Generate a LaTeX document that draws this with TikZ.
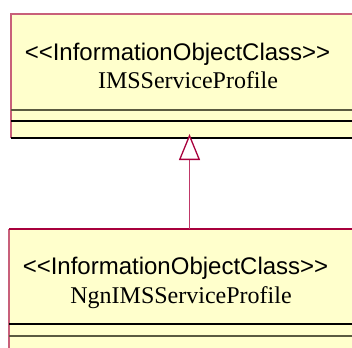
\documentclass[tikz,border=0pt]{standalone}
\usepackage{fontspec}
\setmainfont{Liberation Serif}
\newfontfamily\stfont{Liberation Sans}
\usetikzlibrary{arrows.meta}
\definecolor{classfill}{HTML}{FFFFCC}
\definecolor{pinkedge}{HTML}{C8607A}
\definecolor{crimson}{HTML}{A8003C}
\definecolor{divgray}{HTML}{5A5A40}
\definecolor{linkcol}{HTML}{C03868}
\tikzset{
  classbox/.style={fill=classfill, draw=none, inner sep=0pt, outer sep=0pt, anchor=north west},
  stereo/.style={font=\stfont\fontsize{24}{28}\selectfont, anchor=base, inner sep=0pt},
  cname/.style={font=\rmfamily\fontsize{24}{28}\selectfont, anchor=base, inner sep=0pt},
  gen/.style={draw=linkcol, line width=1.5pt, -{Triangle[open, length=26pt, width=21pt, fill=white, color=crimson, line width=1.3pt]}}
}
\begin{document}
\begin{tikzpicture}[x=1pt, y=-1pt]
\useasboundingbox (0,0) rectangle (352,347);
\clip (0,0) rectangle (352,347);
% top class
\node[classbox, minimum width=400pt, minimum height=124pt] (top) at (11,14) {};
\draw[pinkedge, line width=2pt] (top.south west) -- (top.north west) -- (top.north east);
\draw[divgray, line width=1.5pt] (11,110) -- (400,110);
\draw[black, line width=1.3pt] (11,121) -- (400,121);
\draw[black, line width=2.2pt] (top.south west) -- (top.south east);
\node[stereo] (topst) at (177.5,61) {<<InformationObjectClass>>};
\node[cname] (topnm) at (188,89) {IMSServiceProfile};
% bottom class
\node[classbox, minimum width=400pt, minimum height=140pt] (bot) at (9,229) {};
\draw[pinkedge, line width=2pt] (bot.south west) -- (bot.north west);
\draw[crimson, line width=2pt] (bot.north west) -- (bot.north east);
\draw[black, line width=1.3pt] (9,324) -- (400,324);
\draw[divgray, line width=1.5pt] (9,336) -- (400,336);
\node[stereo] (botst) at (175.5,274) {<<InformationObjectClass>>};
\node[cname] (botnm) at (181,303) {NgnIMSServiceProfile};
% generalization
\coordinate (lx) at (189.5,0);
\draw[gen] (bot.north -| lx) -- ([yshift=4pt]top.south -| lx);
\end{tikzpicture}
\end{document}
